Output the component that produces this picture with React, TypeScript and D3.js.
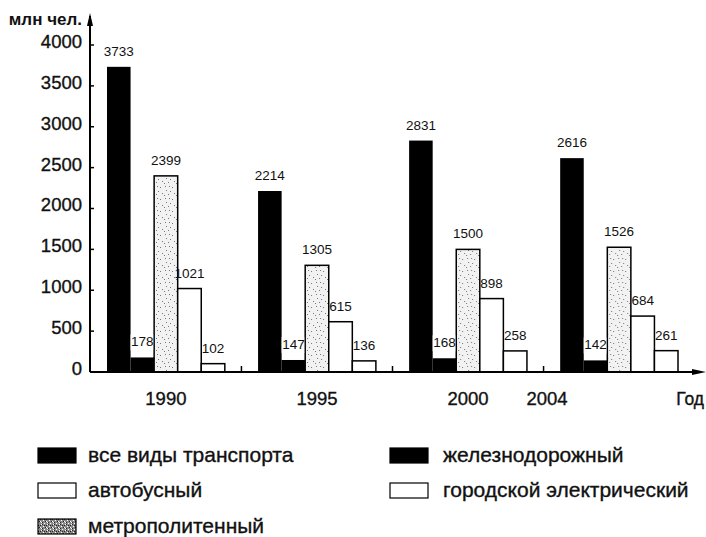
import React from 'react';
import * as d3 from 'd3';

const years = ['1990', '1995', '2000', '2004'];
const allTransport = [3733, 2214, 2831, 2616];
const railway = [178, 147, 168, 142];
const bus = [2399, 1305, 1500, 1526];
const urbanElectric = [1021, 615, 898, 684];
const metro = [102, 136, 258, 261];
const yTicks = [0, 500, 1000, 1500, 2000, 2500, 3000, 3500, 4000];
const seriesNames = ['все виды транспорта', 'железнодорожный', 'автобусный', 'городской электрический', 'метрополитенный'];

const W = 706, H = 537;
const FONT = '"Liberation Sans", Arial, sans-serif';

export default function App() {
  const series = [allTransport, railway, bus, urbanElectric, metro];
  const barFills = ['#000', '#000', 'url(#stipLight)', '#fff', '#fff'];
  const x0 = d3.scaleBand().domain(years).range([107, 678]).paddingInner(0.22).paddingOuter(0);
  const x1 = d3.scaleBand().domain(d3.range(series.length).map(String)).range([0, x0.bandwidth()]);
  const y = d3.scaleLinear().domain([0, 4000]).range([372, 45]);
  const axisX = 90;
  const axisY = 372;

  const sepTicks = years.slice(1).map((yr, i) => (x0(years[i])! + x0.bandwidth() + x0(yr)!) / 2);

  const legendItems = [
    { name: seriesNames[0], fill: '#000', col: 0, row: 0 },
    { name: seriesNames[1], fill: '#000', col: 1, row: 0 },
    { name: seriesNames[2], fill: '#fff', col: 0, row: 1 },
    { name: seriesNames[3], fill: '#fff', col: 1, row: 1 },
    { name: seriesNames[4], fill: 'url(#stipDark)', col: 0, row: 2 },
  ];
  const legendRowY = [448, 483, 519];
  const legendColX = [38, 390];
  const legendTextX = [88, 443];

  const lightDots = [[1, 2], [5, 7], [9, 3], [3, 11], [11, 10], [7, 1], [2, 6], [10, 6]];
  const darkDots = [[0, 0], [2, 1], [4, 3], [1, 4], [3, 5], [5, 0], [0, 2], [4, 5], [2, 3], [5, 2]];

  const thick = { stroke: '#111', strokeWidth: 0.35 };

  return (
    <svg width={W} height={H} style={{ position: 'absolute', left: 0, top: 0, background: '#fff' }} fontFamily={FONT}>
      <defs>
        <pattern id="stipLight" width={12} height={12} patternUnits="userSpaceOnUse">
          <rect width={12} height={12} fill="#f2f2f2" />
          {lightDots.map(([a, b], i) => (
            <rect key={i} x={a} y={b} width={1} height={1} fill="#777" />
          ))}
        </pattern>
        <pattern id="stipDark" width={6} height={6} patternUnits="userSpaceOnUse">
          <rect width={6} height={6} fill="#8a8a8a" />
          {darkDots.map(([a, b], i) => (
            <rect key={i} x={a} y={b} width={1} height={1} fill={i % 2 ? '#fff' : '#222'} />
          ))}
        </pattern>
      </defs>

      {/* y axis */}
      <line x1={axisX} y1={axisY} x2={axisX} y2={16} stroke="#000" strokeWidth={2} />
      <path d={`M${axisX - 3},${26} L${axisX},${13} L${axisX + 3},${26} Z`} fill="#000" />
      {yTicks.map((t) => (
        <g key={t}>
          <line x1={axisX} x2={axisX + 4} y1={y(t)} y2={y(t)} stroke="#000" strokeWidth={1.5} />
          <text x={82} y={y(t) - 2} textAnchor="end" dominantBaseline="middle" fontSize={18.5} fill="#111" {...thick}>
            {t}
          </text>
        </g>
      ))}
      <text x={82} y={25} textAnchor="end" fontSize={17} fontWeight="bold" fill="#111">млн чел.</text>

      {/* bars */}
      {years.map((yr, gi) => (
        <g key={yr} transform={`translate(${x0(yr)},0)`}>
          {series.map((s, si) => {
            const v = s[gi];
            const bx = x1(String(si))!;
            const bw = x1.bandwidth();
            const isBlack = si < 2;
            return (
              <rect
                key={si}
                x={bx}
                y={y(v)}
                width={bw}
                height={axisY - y(v)}
                fill={barFills[si]}
                stroke="#000"
                strokeWidth={isBlack ? 0 : 1.5}
              />
            );
          })}
          {series.map((s, si) => {
            const v = s[gi];
            const bx = x1(String(si))!;
            const bw = x1.bandwidth();
            const ty = y(v) - 11;
            return (
              <g key={'l' + si}>
                {si === 1 && (
                  <rect x={bx} y={ty - 12} width={bw - 1} height={16} fill="#fff" />
                )}
                <text x={bx + bw / 2} y={ty} textAnchor="middle" fontSize={13.5} fill="#111">
                  {v}
                </text>
              </g>
            );
          })}
        </g>
      ))}

      {/* x axis */}
      <line x1={axisX} y1={axisY} x2={700} y2={axisY} stroke="#000" strokeWidth={2} />
      <path d={`M${692},${axisY - 3} L${706},${axisY} L${692},${axisY + 3} Z`} fill="#000" />
      {sepTicks.map((t, i) => (
        <line key={i} x1={t} x2={t} y1={axisY} y2={axisY - 6} stroke="#000" strokeWidth={1.5} />
      ))}
      {years.map((yr, i) => (
        <text
          key={yr}
          x={x0(yr)! + x0.bandwidth() / 2 - (i === years.length - 1 ? 72 : 0)}
          y={405}
          textAnchor="middle"
          fontSize={18.5}
          fill="#111"
          {...thick}
        >
          {yr}
        </text>
      ))}
      <text x={704} y={405} textAnchor="end" fontSize={17.5} fill="#111" {...thick}>Год</text>

      {/* legend */}
      {legendItems.map((it) => (
        <g key={it.name}>
          <rect
            x={legendColX[it.col]}
            y={legendRowY[it.row]}
            width={38}
            height={15}
            fill={it.fill}
            stroke="#000"
            strokeWidth={1.2}
          />
          <text x={legendTextX[it.col]} y={legendRowY[it.row] + 14} fontSize={21} fill="#111" {...thick}>
            {it.name}
          </text>
        </g>
      ))}
    </svg>
  );
}
